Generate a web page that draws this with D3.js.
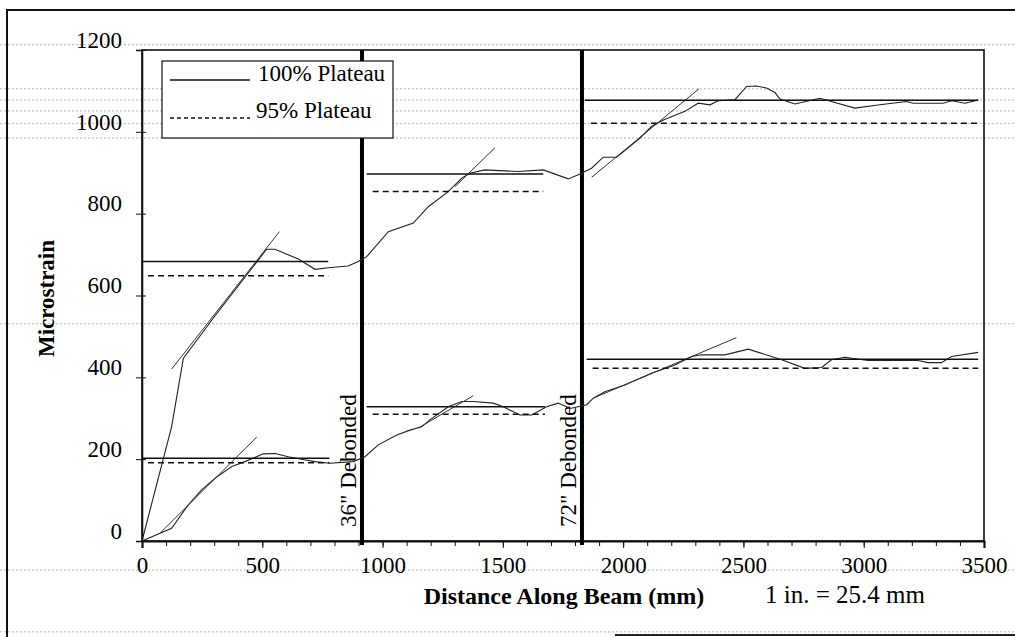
<!DOCTYPE html>
<html>
<head>
<meta charset="utf-8">
<script src="https://cdn.jsdelivr.net/npm/d3@7"></script>
<style>
  html, body { margin: 0; padding: 0; background: #fff; }
  svg { display: block; }
  text { font-family: "Liberation Serif", "DejaVu Serif", serif; fill: #000; }
</style>
</head>
<body>
<svg id="chart" width="1015" height="637"></svg>
<script>
// ---------- DATA (mm along beam, microstrain) ----------
const xTicks = [0, 500, 1000, 1500, 2000, 2500, 3000, 3500];
const yTicks = [0, 200, 400, 600, 800, 1000, 1200];
const debondLocations = [914.4, 1828.8];
const debondLabels = ['36" Debonded', '72" Debonded'];
const legendLabels = ["100% Plateau", "95% Plateau"];

const measuredUpper = [
  [0,0],[123,279],[172,447],[303,550],[518,713],[553,713],[650,689],[719,664],[774,668],
  [857,672],[899,683],[934,695],[1024,756],[1128,777],[1190,817],[1273,854],[1329,887],
  [1363,899],[1425,907],[1564,903],[1668,907],[1772,885],[1813,895],[1841,903],[1869,911],
  [1917,938],[1973,938],[2070,985],[2118,1013],[2167,1029],[2257,1050],[2312,1070],
  [2361,1066],[2395,1076],[2464,1078],[2513,1111],[2555,1112],[2596,1107],[2631,1096],
  [2652,1080],[2714,1068],[2818,1082],[2963,1058],[3067,1066],[3178,1074],[3206,1070],
  [3330,1070],[3365,1076],[3421,1070],[3476,1078]
];
const measuredLower = [
  [0,0],[123,31],[192,88],[248,125],[303,153],[373,182],[428,194],[504,213],[553,214],
  [608,206],[664,200],[719,194],[781,190],[878,194],[927,206],[982,235],[1059,259],
  [1114,271],[1162,279],[1197,296],[1273,328],[1329,341],[1377,341],[1460,337],[1502,328],
  [1571,308],[1620,308],[1682,328],[1730,337],[1779,324],[1827,330],[1848,333],[1876,349],
  [1924,365],[2007,381],[2118,410],[2215,430],[2285,451],[2326,455],[2423,455],[2520,469],
  [2659,443],[2755,422],[2825,424],[2866,443],[2922,449],[3018,441],[3226,441],[3268,436],
  [3323,436],[3365,451],[3476,461]
];
// plateau segments: [xStart, xEnd, 100% level, 95% level]
const plateaus = [
  [0, 774, 683, 648],
  [0, 779, 202, 191],
  [934, 1668, 897, 854],
  [934, 1675, 328, 310],
  [1841, 3476, 1077, 1021],
  [1848, 3476, 444, 422]
];
// fitted slope lines: [x0, y0, x1, y1]
const fitLines = [
  [123, 420, 571, 756],
  [75, 19, 477, 254],
  [1301, 866, 1467, 961],
  [1148, 276, 1377, 355],
  [1869, 889, 2315, 1105],
  [1883, 351, 2471, 497]
];
// faint ruled lines of the scanned page (microstrain units)
const pageRules = [1213, 1105, 1078, 1051, 1020, 985, 531, -71, -222];

// ---------- LAYOUT ----------
const svg = d3.select("#chart");
const W = 1015, H = 637;
const plot = { left: 142, right: 984, top: 50, bottom: 541 };

const x = d3.scaleLinear().domain([0, 3500]).range([plot.left, plot.right]);
const y = d3.scaleLinear().domain([0, 1200]).range([plot.bottom, plot.top]);

svg.append("rect").attr("width", W).attr("height", H).attr("fill", "#fff");

// page rules (scan)
svg.append("g").selectAll("line").data(pageRules).join("line")
  .attr("x1", 0).attr("x2", W)
  .attr("y1", d => y(d)).attr("y2", d => y(d))
  .attr("stroke", "#9a9a9a").attr("stroke-width", 1)
  .attr("stroke-dasharray", "2,2").attr("opacity", 0.75);

// outer frame
svg.append("path")
  .attr("d", `M7,${H} L7,10 L${W},10`)
  .attr("fill", "none").attr("stroke", "#111").attr("stroke-width", 2);
svg.append("line").attr("x1", 615).attr("x2", W).attr("y1", 635).attr("y2", 635)
  .attr("stroke", "#222").attr("stroke-width", 2);

// plot frame
svg.append("rect")
  .attr("x", plot.left).attr("y", plot.top)
  .attr("width", plot.right - plot.left).attr("height", plot.bottom - plot.top)
  .attr("fill", "none").attr("stroke", "#111").attr("stroke-width", 1.6);

// X axis
const xAxis = d3.axisBottom(x).tickValues(xTicks).tickSize(7).tickPadding(9).tickFormat(d3.format("d"));
const gx = svg.append("g").attr("transform", `translate(0,${plot.bottom})`).call(xAxis);
gx.select(".domain").attr("stroke", "#111").attr("stroke-width", 2.2);
gx.selectAll(".tick line").attr("stroke", "#111");
gx.selectAll(".tick text").attr("font-size", 23).attr("font-family", "Liberation Serif").attr("fill", "#000");
// minor x ticks
const xMinor = d3.axisBottom(x).ticks(35).tickSize(5).tickFormat("");
const gxm = svg.append("g").attr("transform", `translate(0,${plot.bottom})`).call(xMinor);
gxm.select(".domain").remove();
gxm.selectAll(".tick line").attr("stroke", "#111");

// Y axis
const yAxis = d3.axisLeft(y).tickValues(yTicks).tickSize(6).tickPadding(14).tickFormat(d3.format("d"));
const gy = svg.append("g").attr("transform", `translate(${plot.left},0)`).call(yAxis);
gy.select(".domain").attr("stroke", "#111").attr("stroke-width", 1.6);
gy.selectAll(".tick line").attr("stroke", "#111").attr("x2", -6).attr("x1", 4);
gy.selectAll(".tick text").attr("font-size", 23).attr("font-family", "Liberation Serif")
  .attr("fill", "#000").attr("dy", "-0.12em");

// debonded thick lines
svg.append("g").selectAll("line").data(debondLocations).join("line")
  .attr("x1", d => x(d)).attr("x2", d => x(d))
  .attr("y1", y(1200)).attr("y2", y(0) + 4)
  .attr("stroke", "#000").attr("stroke-width", 4);

svg.append("g").selectAll("text").data(debondLocations).join("text")
  .attr("transform", (d, i) => `translate(${x(d) - 6},${y(0) - 14}) rotate(-90)`)
  .attr("font-size", 23).attr("text-anchor", "start")
  .text((d, i) => debondLabels[i]);

const line = d3.line().x(d => x(d[0])).y(d => y(d[1]));

// measured curves
svg.append("path").datum(measuredUpper).attr("d", line)
  .attr("fill", "none").attr("stroke", "#222").attr("stroke-width", 1.1);
svg.append("path").datum(measuredLower).attr("d", line)
  .attr("fill", "none").attr("stroke", "#222").attr("stroke-width", 1.1);

// fit lines
svg.append("g").selectAll("line").data(fitLines).join("line")
  .attr("x1", d => x(d[0])).attr("y1", d => y(d[1]))
  .attr("x2", d => x(d[2])).attr("y2", d => y(d[3]))
  .attr("stroke", "#333").attr("stroke-width", 1);

// plateaus
svg.append("g").selectAll("line").data(plateaus).join("line")
  .attr("x1", d => x(d[0])).attr("x2", d => x(d[1]))
  .attr("y1", d => y(d[2])).attr("y2", d => y(d[2]))
  .attr("stroke", "#111").attr("stroke-width", 1.5);
svg.append("g").selectAll("line").data(plateaus).join("line")
  .attr("x1", d => x(d[0]) + 6).attr("x2", d => x(d[1]))
  .attr("y1", d => y(d[3])).attr("y2", d => y(d[3]))
  .attr("stroke", "#111").attr("stroke-width", 1.5).attr("stroke-dasharray", "6,4");

// legend
const lg = svg.append("g").attr("transform", "translate(162,61)");
lg.append("rect").attr("width", 231).attr("height", 77)
  .attr("fill", "#fff").attr("stroke", "#111").attr("stroke-width", 1.2);
lg.append("line").attr("x1", 8).attr("x2", 88).attr("y1", 19).attr("y2", 19)
  .attr("stroke", "#111").attr("stroke-width", 1.5);
lg.append("text").attr("x", 96).attr("y", 20).attr("font-size", 23).text(legendLabels[0]);
lg.append("line").attr("x1", 8).attr("x2", 88).attr("y1", 57).attr("y2", 57)
  .attr("stroke", "#111").attr("stroke-width", 1.5).attr("stroke-dasharray", "4,3");
lg.append("text").attr("x", 94).attr("y", 57).attr("font-size", 23).text(legendLabels[1]);

// axis titles
svg.append("text")
  .attr("transform", `translate(54,${(plot.top + plot.bottom) / 2 + 3}) rotate(-90)`)
  .attr("text-anchor", "middle").attr("font-weight", "bold").attr("font-size", 23)
  .text("Microstrain");
svg.append("text").attr("x", 564).attr("y", 604)
  .attr("text-anchor", "middle").attr("font-weight", "bold").attr("font-size", 24)
  .text("Distance Along Beam (mm)");
svg.append("text").attr("x", 845).attr("y", 603)
  .attr("text-anchor", "middle").attr("font-size", 25)
  .text("1 in. = 25.4 mm");
</script>
</body>
</html>
